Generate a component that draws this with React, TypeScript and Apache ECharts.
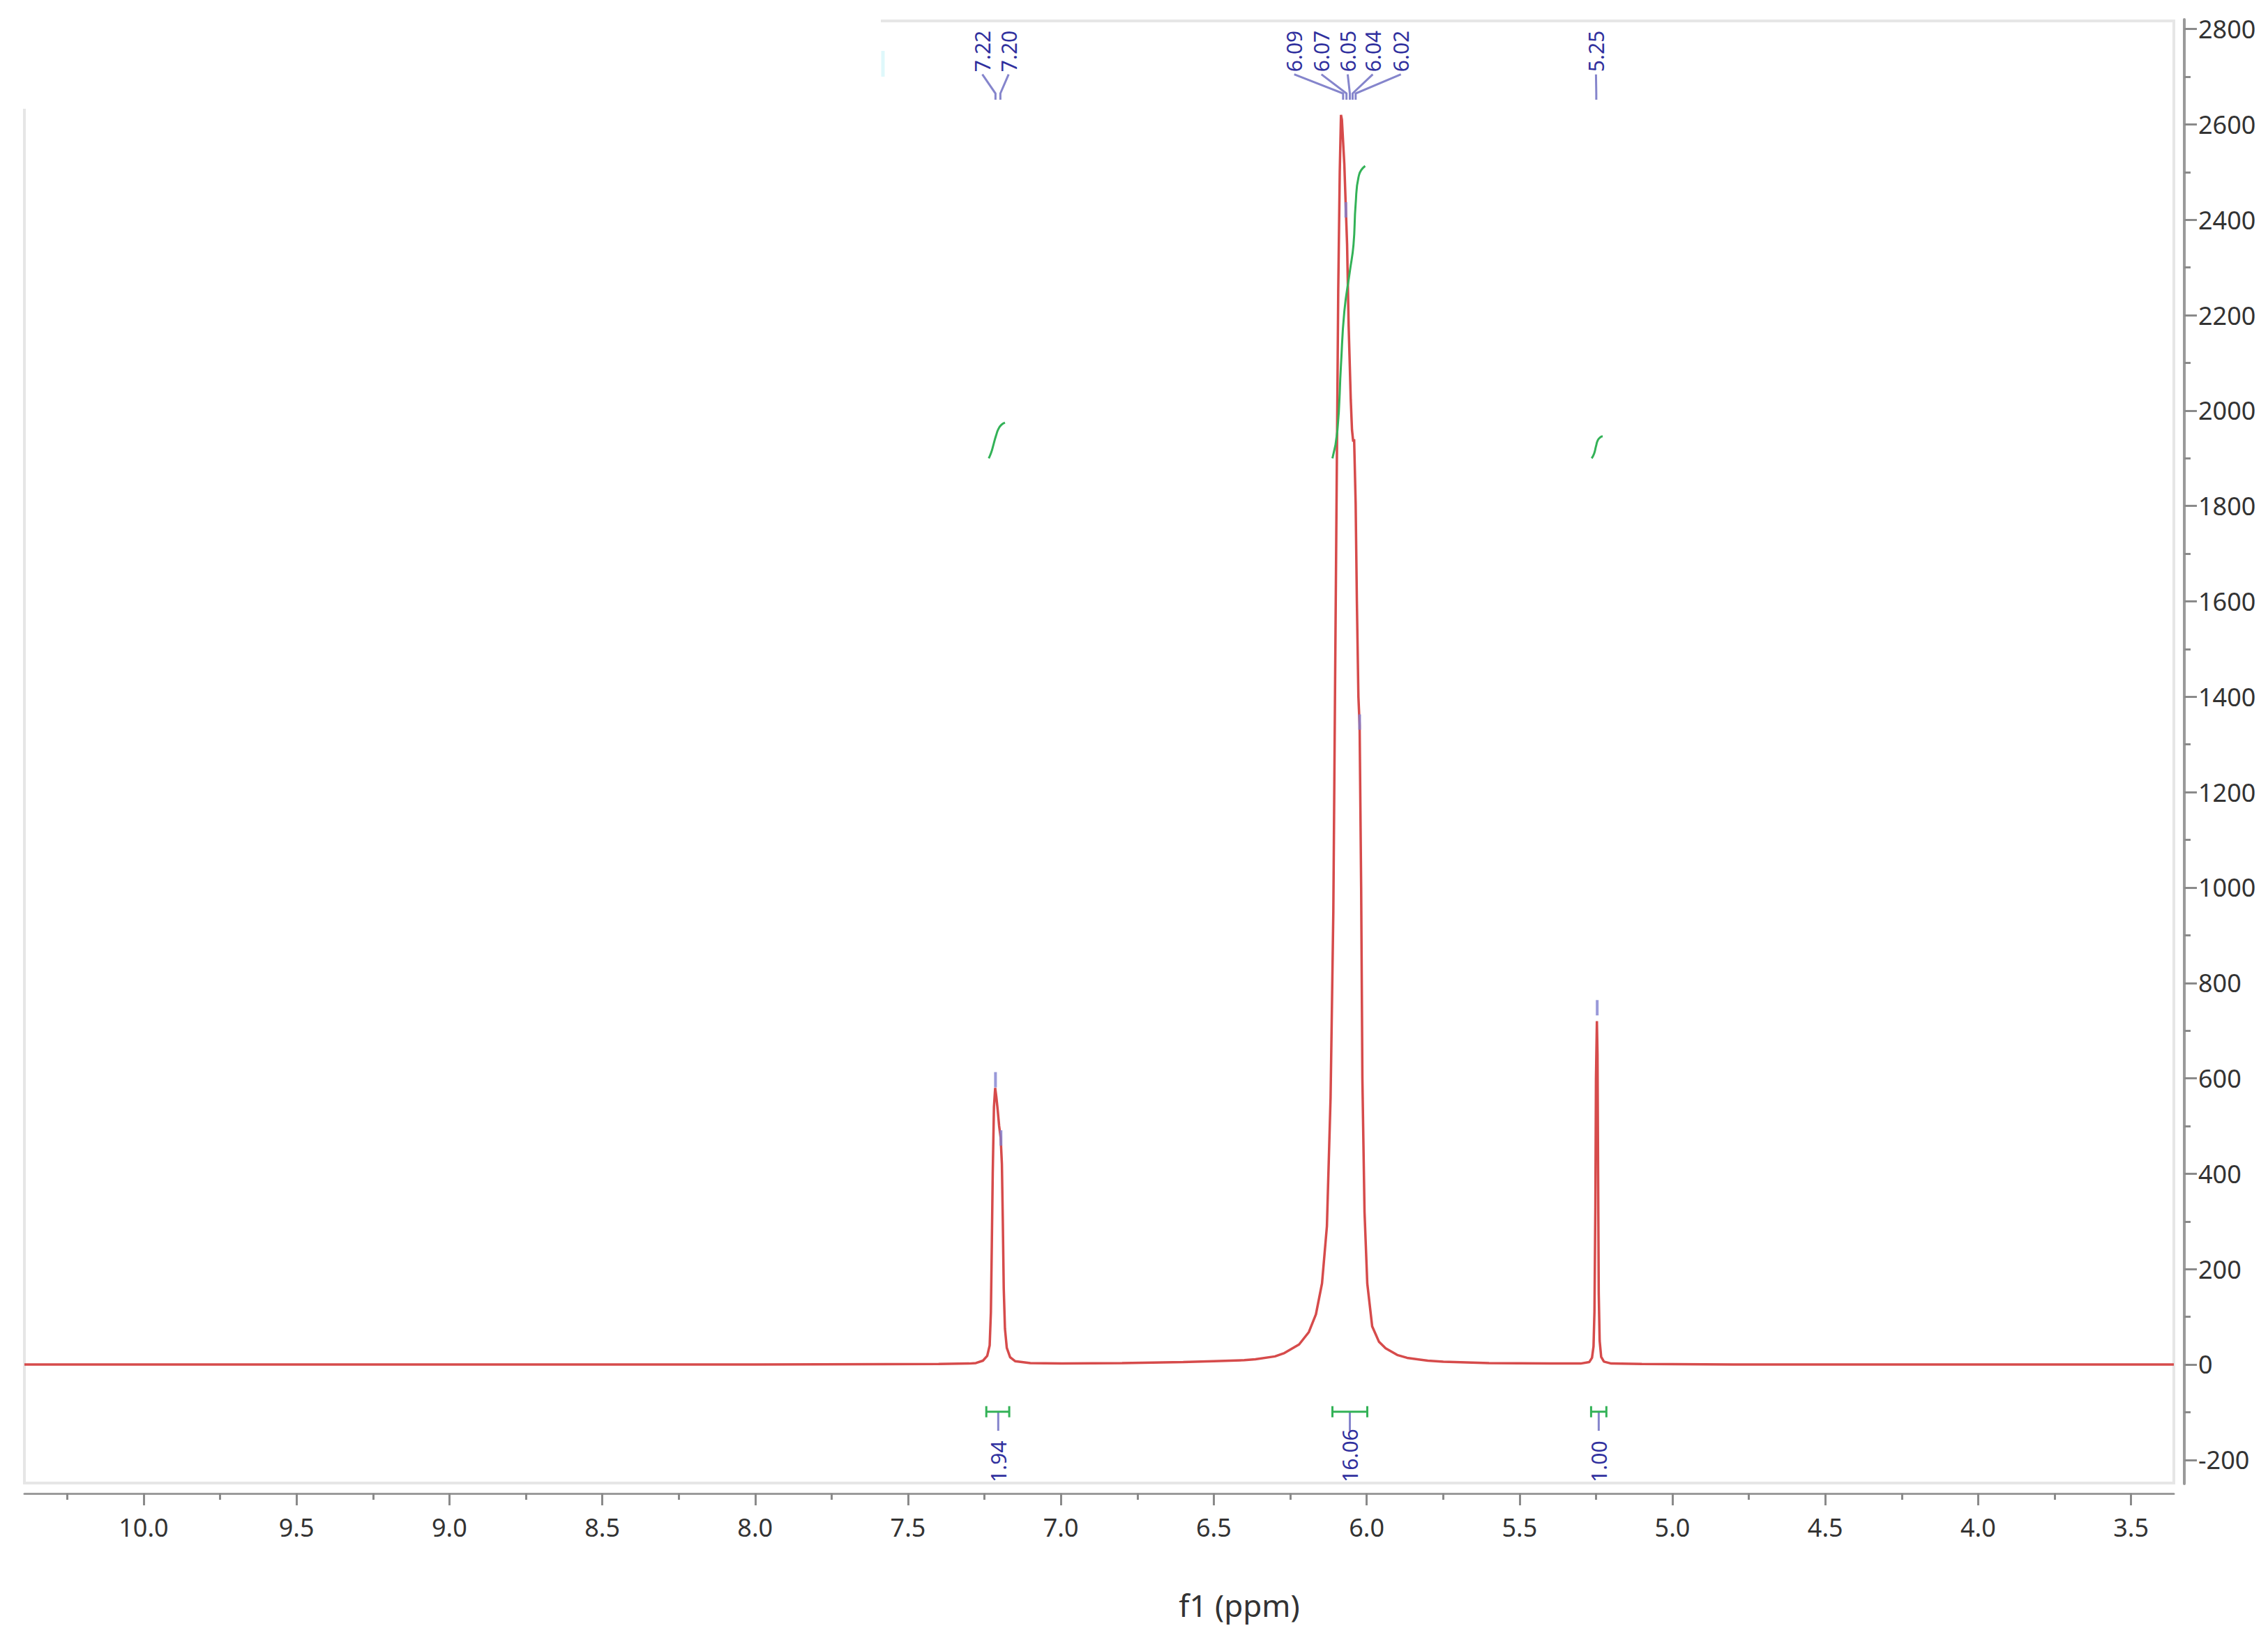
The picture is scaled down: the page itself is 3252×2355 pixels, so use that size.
import React, { useEffect, useRef } from 'react';
import * as echarts from 'echarts';

const FONT = '"Noto Sans", "Open Sans", sans-serif';

// axis ticks
const xTickLabels = [10.0, 9.5, 9.0, 8.5, 8.0, 7.5, 7.0, 6.5, 6.0, 5.5, 5.0, 4.5, 4.0, 3.5];
const xMinorTicks = [10.25, 9.75, 9.25, 8.75, 8.25, 7.75, 7.25, 6.75, 6.25, 5.75, 5.25, 4.75, 4.25, 3.75];
const yTickLabels = [-200, 0, 200, 400, 600, 800, 1000, 1200, 1400, 1600, 1800, 2000, 2200, 2400, 2600, 2800];
const yMinorTicks = [-100, 100, 300, 500, 700, 900, 1100, 1300, 1500, 1700, 1900, 2100, 2300, 2500, 2700];

// spectrum (ppm, intensity)
const baselineLeft = [[10.39, 0], [8.0, 0], [7.4, 1], [7.3, 2]];
const doubletPoints = [
  [7.278, 3], [7.255, 8], [7.241, 18], [7.233, 40], [7.229, 110], [7.226, 250], [7.223, 400],
  [7.219, 540], [7.215, 580], [7.211, 560], [7.207, 535], [7.202, 500], [7.197, 475],
  [7.193, 420], [7.190, 300], [7.187, 160], [7.183, 75], [7.177, 35], [7.166, 15],
  [7.150, 7], [7.10, 3], [7.0, 2],
];
const mainPeakPoints = [
  [6.80, 3], [6.60, 5], [6.50, 7], [6.40, 9], [6.364, 11], [6.30, 17], [6.269, 24], [6.221, 42],
  [6.189, 68], [6.166, 105], [6.146, 170], [6.130, 290], [6.118, 560], [6.109, 950],
  [6.103, 1450], [6.098, 1850], [6.093, 2250], [6.088, 2500], [6.084, 2620], [6.081, 2610],
  [6.073, 2516], [6.068, 2421], [6.064, 2348], [6.059, 2180], [6.052, 2023], [6.048, 1960],
  [6.044, 1935], [6.041, 1940], [6.036, 1805], [6.032, 1600], [6.027, 1400], [6.023, 1340],
  [6.018, 1000], [6.014, 600], [6.007, 320], [5.998, 170], [5.982, 80], [5.960, 48],
  [5.938, 34], [5.90, 20], [5.868, 14], [5.80, 8], [5.749, 6], [5.60, 3], [5.40, 2],
];
const singletPoints = [
  [5.30, 2], [5.272, 5], [5.263, 14], [5.258, 38], [5.255, 110], [5.252, 330], [5.250, 600],
  [5.247, 720], [5.245, 650], [5.243, 400], [5.241, 150], [5.238, 50], [5.233, 16],
  [5.224, 6], [5.20, 2], [5.10, 1],
];
const baselineRight = [[4.8, 0], [3.36, 0]];

// integral curves (ppm, drawn height)
const integralDoublet = [[7.236, 1900], [7.228, 1912], [7.220, 1930], [7.212, 1948], [7.204, 1962], [7.195, 1970], [7.183, 1975]];
const integralMain = [[6.112, 1900], [6.096, 1956], [6.084, 2096], [6.073, 2208], [6.055, 2292], [6.043, 2348], [6.036, 2433], [6.025, 2494], [6.005, 2513]];
const integralSinglet = [[5.264, 1900], [5.256, 1910], [5.250, 1925], [5.244, 1938], [5.236, 1944], [5.228, 1946]];

// peak pick markers (ppm, height)
const peakMarkers = [[7.214, 597], [7.196, 475], [6.068, 2421], [6.023, 1347], [5.246, 748]];

// peak labels: text, label position (ppm), target (ppm)
const peakLabelTexts = ['7.22', '7.20', '6.09', '6.07', '6.05', '6.04', '6.02', '5.25'];
const peakLabelPos = [7.257, 7.171, 6.237, 6.148, 6.062, 5.980, 5.888, 5.250];
const peakLabelTarget = [7.214, 7.198, 6.077, 6.066, 6.055, 6.046, 6.036, 5.249];

// integrations: text, from, to, centre (ppm)
const integralTexts = ['1.94', '16.06', '1.00'];
const integralFrom = [7.244, 6.112, 5.266];
const integralTo = [7.169, 5.998, 5.216];
const integralCentre = [7.205, 6.055, 5.241];

const Y_MIN = -250;
const Y_MAX = 2820;
const X_MIN = 3.36;
const X_MAX = 10.39;

// annotation levels (in intensity units)
const LABEL_BASE = 2710;
const CONN_START = 2705;
const CONN_MID = 2665;
const CONN_END = 2652;
const BRACKET_Y = -99;
const BRACKET_STEM_END = -139;
const INT_TEXT_BASE = -247;

const RED = '#d64b4b';
const GREEN = '#33b257';
const BLUE_TEXT = '#30309e';
const BLUE_LINE = '#8585cc';
const FRAME = '#e6e6e6';

export default function App() {
  const ref = useRef<HTMLDivElement>(null);

  useEffect(() => {
    if (!ref.current) return;
    const chart = echarts.init(ref.current, undefined, { renderer: 'svg' });

    const spectrum = [...baselineLeft, ...doubletPoints, ...mainPeakPoints, ...singletPoints, ...baselineRight];

    const labelData = peakLabelPos.map((p, i) => [p, peakLabelTarget[i]]);
    const integData = integralFrom.map((f, i) => [f, integralTo[i], integralCentre[i]]);

    const option: any = {
      animation: false,
      backgroundColor: '#ffffff',
      grid: { left: 35, right: 135, top: 28, bottom: 227, show: false },
      xAxis: [
        {
          type: 'value', min: X_MIN, max: X_MAX, inverse: true, position: 'bottom', offset: 14,
          axisLine: { show: true, onZero: false, lineStyle: { color: '#9a9a9a', width: 3 } },
          axisTick: { show: true, length: 17, customValues: xTickLabels, lineStyle: { color: '#8a8a8a', width: 3 } },
          axisLabel: {
            show: true, customValues: xTickLabels, margin: 30,
            formatter: (v: number) => v.toFixed(1),
            fontSize: 36, color: '#333', fontFamily: FONT,
          },
          splitLine: { show: false },
        },
        {
          type: 'value', min: X_MIN, max: X_MAX, inverse: true, position: 'bottom', offset: 14,
          axisLine: { show: false, onZero: false },
          axisTick: { show: true, length: 9, customValues: xMinorTicks, lineStyle: { color: '#8a8a8a', width: 3 } },
          axisLabel: { show: false },
          splitLine: { show: false },
        },
      ],
      yAxis: [
        {
          type: 'value', min: Y_MIN, max: Y_MAX, position: 'right', offset: 15,
          axisLine: { show: true, onZero: false, lineStyle: { color: '#9a9a9a', width: 4 } },
          axisTick: { show: true, length: 18, customValues: yTickLabels, lineStyle: { color: '#8a8a8a', width: 3 } },
          axisLabel: {
            show: true, customValues: yTickLabels, margin: 20,
            formatter: (v: number) => String(v),
            fontSize: 36, color: '#333', fontFamily: FONT,
          },
          splitLine: { show: false },
        },
        {
          type: 'value', min: Y_MIN, max: Y_MAX, position: 'right', offset: 15,
          axisLine: { show: false, onZero: false },
          axisTick: { show: true, length: 9, customValues: yMinorTicks, lineStyle: { color: '#8a8a8a', width: 3 } },
          axisLabel: { show: false },
          splitLine: { show: false },
        },
      ],
      graphic: [
        {
          type: 'polyline', z: 0,
          shape: { points: [[1263, 30], [3117, 30], [3117, 2127], [35, 2127], [35, 156]] },
          style: { stroke: FRAME, lineWidth: 4, fill: 'none' },
        },
        {
          type: 'line', z: 0,
          shape: { x1: 1266, y1: 73, x2: 1266, y2: 110 },
          style: { stroke: '#dff8fb', lineWidth: 5 },
        },
        {
          type: 'text', x: 1777, y: 2302,
          style: { text: 'f1 (ppm)', fontSize: 44, fill: '#333', fontFamily: FONT, align: 'center', verticalAlign: 'middle' },
        },
      ],
      series: [
        {
          type: 'line', name: 'spectrum', xAxisIndex: 0, yAxisIndex: 0, data: spectrum,
          showSymbol: false, symbol: 'none', smooth: false,
          lineStyle: { color: RED, width: 3.5 }, z: 3,
        },
        {
          type: 'line', name: 'int1', xAxisIndex: 0, yAxisIndex: 0, data: integralDoublet,
          showSymbol: false, symbol: 'none', smooth: true, lineStyle: { color: GREEN, width: 3 }, z: 4,
        },
        {
          type: 'line', name: 'int2', xAxisIndex: 0, yAxisIndex: 0, data: integralMain,
          showSymbol: false, symbol: 'none', smooth: true, lineStyle: { color: GREEN, width: 3 }, z: 4,
        },
        {
          type: 'line', name: 'int3', xAxisIndex: 0, yAxisIndex: 0, data: integralSinglet,
          showSymbol: false, symbol: 'none', smooth: true, lineStyle: { color: GREEN, width: 3 }, z: 4,
        },
        {
          type: 'scatter', name: 'peaks', xAxisIndex: 0, yAxisIndex: 0, data: peakMarkers,
          symbol: 'rect', symbolSize: [4, 22], itemStyle: { color: '#7f7fcf' }, z: 5,
        },
        {
          type: 'custom', name: 'peakLabels', xAxisIndex: 0, yAxisIndex: 0, data: labelData, z: 6,
          renderItem: (params: any, api: any) => {
            const i = params.dataIndex;
            const lx = api.value(0);
            const tx = api.value(1);
            const pText = api.coord([lx, LABEL_BASE]);
            const p0 = api.coord([lx, CONN_START]);
            const p1 = api.coord([tx, CONN_MID]);
            const p2 = api.coord([tx, CONN_END]);
            return {
              type: 'group',
              children: [
                {
                  type: 'text', x: pText[0], y: pText[1], rotation: Math.PI / 2,
                  style: { text: peakLabelTexts[i], fill: BLUE_TEXT, fontSize: 30, fontFamily: FONT, align: 'left', verticalAlign: 'middle' },
                },
                {
                  type: 'polyline', shape: { points: [p0, p1, p2] },
                  style: { stroke: BLUE_LINE, lineWidth: 3, fill: 'none' },
                },
              ],
            };
          },
        },
        {
          type: 'custom', name: 'integrals', xAxisIndex: 0, yAxisIndex: 0, data: integData, z: 6,
          renderItem: (params: any, api: any) => {
            const i = params.dataIndex;
            const a = api.coord([api.value(0), BRACKET_Y]);
            const b = api.coord([api.value(1), BRACKET_Y]);
            const c = api.coord([api.value(2), BRACKET_Y]);
            const cEnd = api.coord([api.value(2), BRACKET_STEM_END]);
            const t = api.coord([api.value(2), INT_TEXT_BASE]);
            return {
              type: 'group',
              children: [
                { type: 'line', shape: { x1: c[0], y1: c[1], x2: cEnd[0], y2: cEnd[1] }, style: { stroke: BLUE_LINE, lineWidth: 3 } },
                { type: 'line', shape: { x1: a[0], y1: a[1], x2: b[0], y2: b[1] }, style: { stroke: GREEN, lineWidth: 3 } },
                { type: 'line', shape: { x1: a[0], y1: a[1] - 8, x2: a[0], y2: a[1] + 8 }, style: { stroke: GREEN, lineWidth: 3 } },
                { type: 'line', shape: { x1: b[0], y1: b[1] - 8, x2: b[0], y2: b[1] + 8 }, style: { stroke: GREEN, lineWidth: 3 } },
                {
                  type: 'text', x: t[0], y: t[1], rotation: Math.PI / 2,
                  style: { text: integralTexts[i], fill: BLUE_TEXT, fontSize: 30, fontFamily: FONT, align: 'left', verticalAlign: 'middle' },
                },
              ],
            };
          },
        },
      ],
    };

    chart.setOption(option);
    return () => chart.dispose();
  }, []);

  return <div ref={ref} style={{ width: 3252, height: 2355, position: 'absolute', left: 0, top: 0, background: '#fff' }} />;
}
